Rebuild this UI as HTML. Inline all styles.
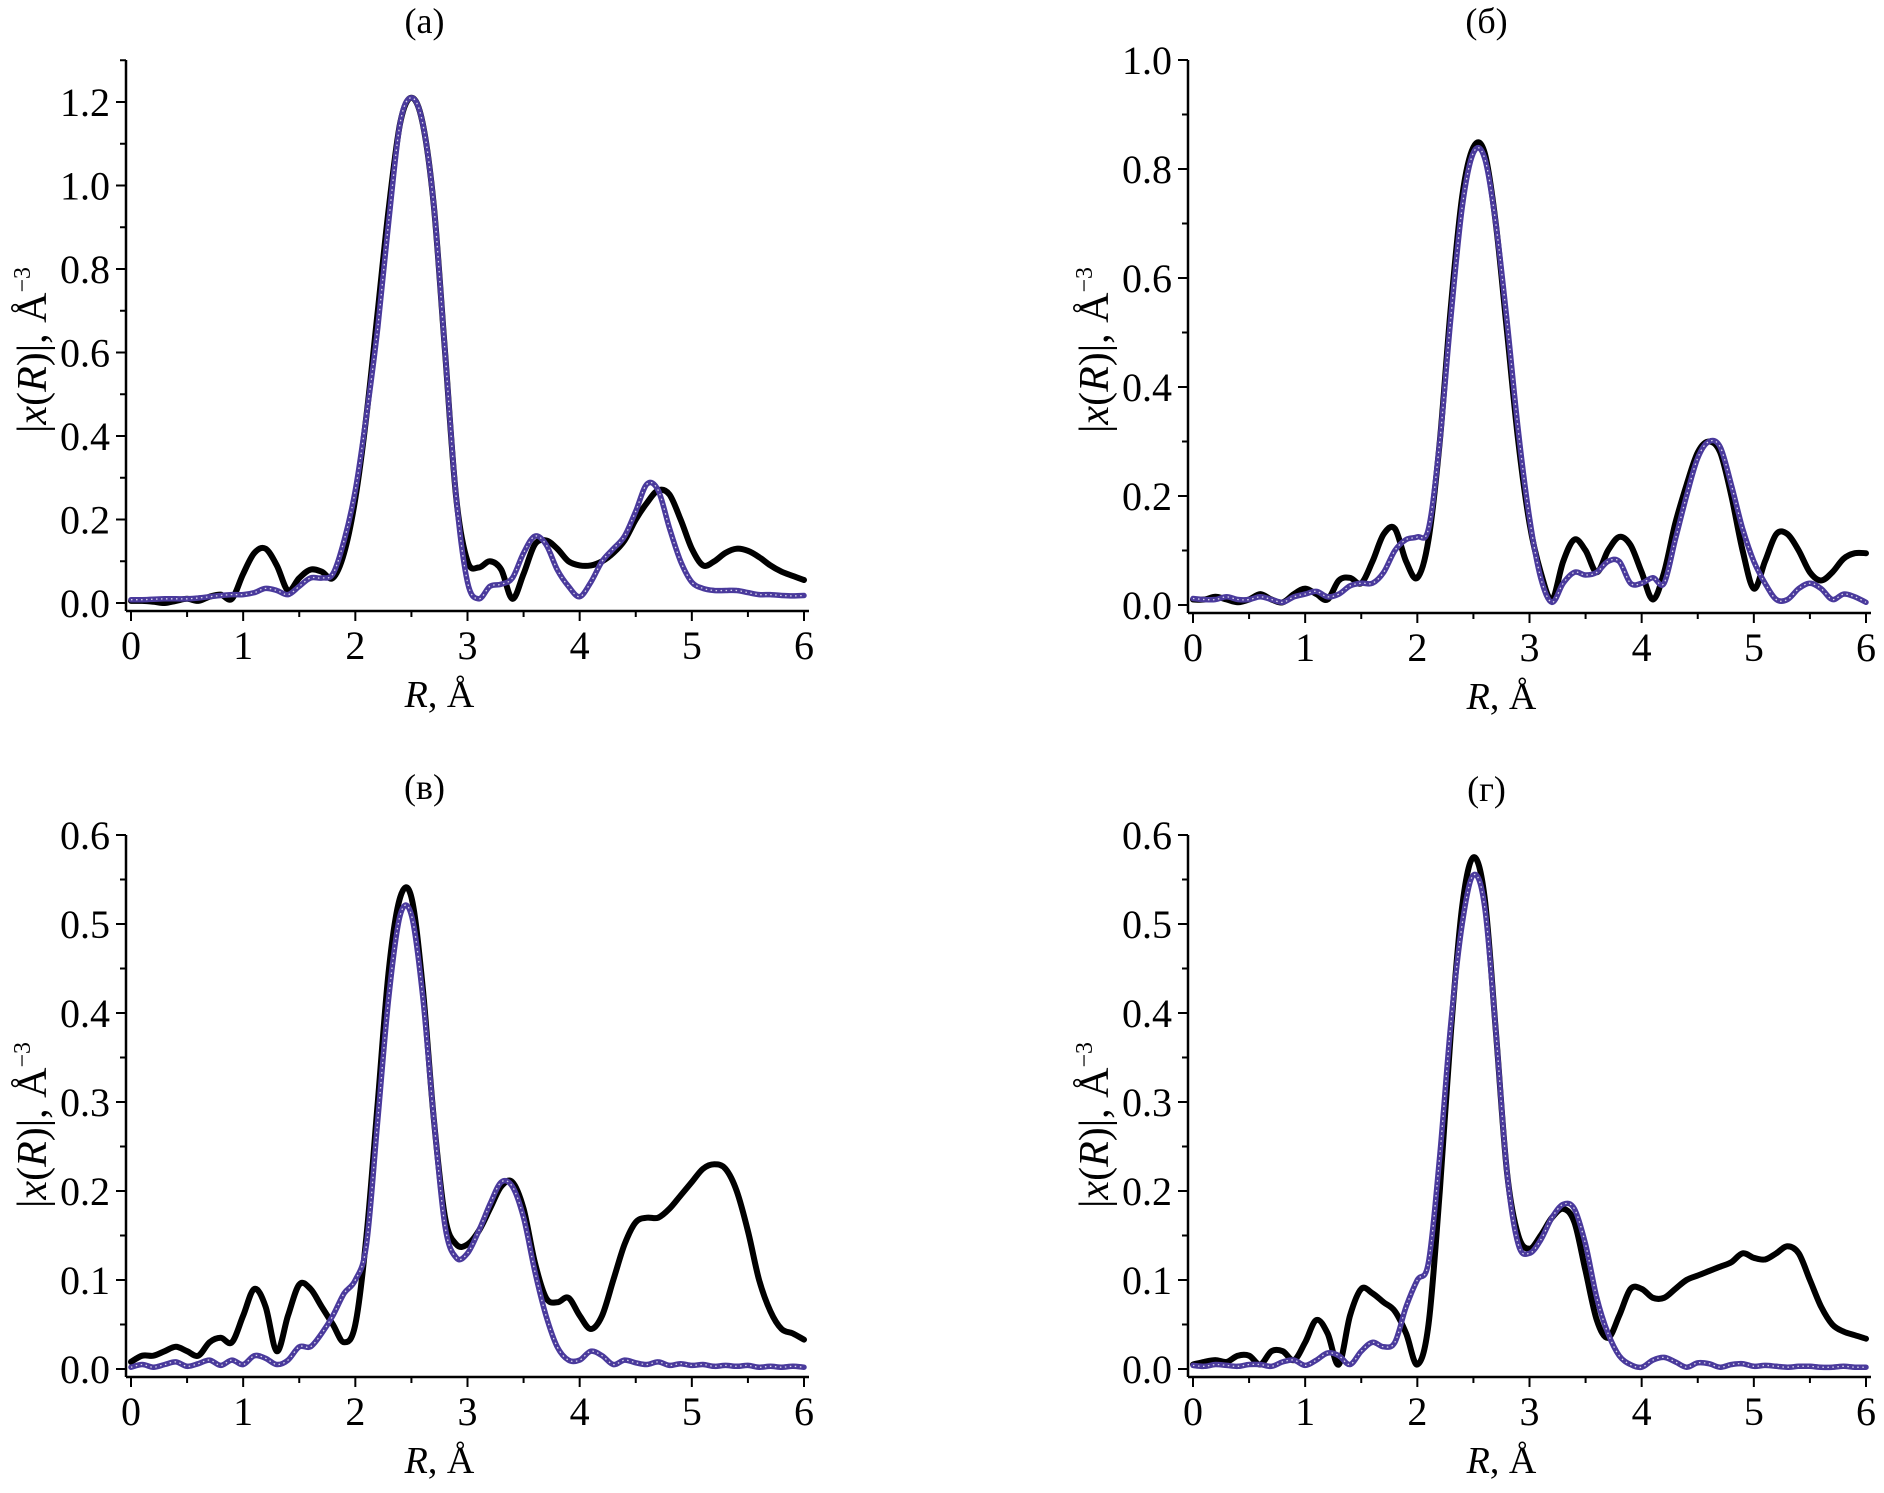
<!DOCTYPE html>
<html><head><meta charset="utf-8"><style>
html,body{margin:0;padding:0;background:#fff}
svg{display:block}
svg text{font-family:"Liberation Serif","Times New Roman",serif;fill:#000}
</style></head><body>
<svg id="fig" width="1884" height="1493" viewBox="0 0 1884 1493" xmlns="http://www.w3.org/2000/svg" font-family="Liberation Serif, serif"></svg>
<script>
const rGrid = [0,0.1,0.2,0.3,0.4,0.5,0.6,0.7,0.8,0.9,1.0,1.1,1.2,1.3,1.4,1.5,1.6,1.7,1.8,1.9,2.0,2.1,2.2,2.3,2.4,2.5,2.6,2.7,2.8,2.9,3.0,3.1,3.2,3.3,3.4,3.5,3.6,3.7,3.8,3.9,4.0,4.1,4.2,4.3,4.4,4.5,4.6,4.7,4.8,4.9,5.0,5.1,5.2,5.3,5.4,5.5,5.6,5.7,5.8,5.9,6.0];
const xTicks = ["0","1","2","3","4","5","6"];
const expA = [.005,.005,.003,0,.005,.01,.005,.015,.02,.01,.07,.12,.13,.09,.03,.06,.08,.075,.06,.12,.25,.45,.7,.95,1.15,1.21,1.15,.95,.6,.25,.1,.085,.1,.08,.01,.07,.14,.15,.13,.1,.09,.09,.1,.12,.15,.2,.24,.27,.26,.2,.13,.09,.1,.12,.13,.125,.11,.09,.075,.065,.055];
const fitA = [.008,.008,.009,.01,.01,.01,.012,.015,.018,.02,.02,.025,.035,.03,.02,.04,.06,.06,.07,.15,.27,.45,.66,.92,1.15,1.21,1.15,.95,.6,.25,.05,.01,.04,.045,.06,.12,.16,.14,.08,.04,.015,.05,.1,.13,.16,.22,.285,.27,.18,.1,.05,.035,.03,.03,.03,.025,.02,.02,.018,.017,.018];
const expB = [.01,.01,.015,.01,.005,.01,.02,.01,.005,.02,.03,.02,.01,.045,.05,.04,.08,.13,.14,.08,.05,.12,.3,.55,.75,.84,.83,.7,.5,.3,.15,.06,.01,.08,.12,.1,.06,.1,.125,.11,.06,.01,.06,.15,.22,.28,.3,.28,.2,.1,.03,.08,.13,.13,.1,.06,.045,.06,.085,.095,.095];
const fitB = [.012,.01,.01,.015,.01,.01,.015,.01,.005,.015,.02,.025,.015,.02,.035,.04,.04,.06,.1,.12,.125,.14,.3,.53,.73,.83,.82,.7,.52,.32,.16,.05,.005,.04,.06,.055,.06,.08,.08,.04,.04,.05,.04,.12,.2,.27,.3,.29,.22,.14,.08,.04,.01,.01,.03,.04,.03,.01,.02,.015,.005];
const expC = [.008,.015,.015,.02,.025,.02,.015,.03,.035,.03,.06,.09,.07,.02,.06,.095,.09,.07,.05,.03,.05,.15,.3,.45,.53,.53,.43,.28,.17,.14,.14,.155,.18,.205,.21,.18,.12,.08,.075,.08,.06,.045,.06,.1,.14,.165,.17,.17,.18,.195,.21,.225,.23,.225,.2,.155,.1,.065,.045,.04,.033];
const fitC = [.002,.005,.002,.005,.008,.003,.006,.01,.004,.01,.005,.015,.012,.005,.01,.025,.025,.04,.06,.085,.1,.14,.28,.42,.51,.51,.42,.28,.16,.125,.13,.155,.185,.21,.205,.17,.11,.06,.025,.01,.01,.02,.015,.005,.01,.007,.005,.008,.004,.006,.004,.005,.003,.004,.003,.004,.002,.003,.002,.003,.002];
const expD = [.005,.008,.01,.008,.015,.015,.005,.02,.02,.01,.03,.055,.04,.005,.06,.09,.085,.075,.065,.04,.005,.05,.2,.38,.52,.575,.53,.38,.22,.15,.135,.15,.17,.18,.165,.11,.055,.035,.06,.09,.09,.08,.08,.09,.1,.105,.11,.115,.12,.13,.125,.123,.13,.138,.13,.1,.07,.05,.042,.038,.034];
const fitD = [.004,.003,.005,.004,.003,.005,.005,.003,.008,.01,.004,.01,.018,.015,.005,.02,.03,.025,.03,.07,.1,.12,.24,.39,.5,.555,.52,.38,.22,.14,.13,.145,.17,.185,.18,.14,.08,.04,.015,.005,.002,.01,.013,.008,.002,.007,.006,.002,.005,.006,.003,.004,.003,.002,.003,.003,.002,.002,.003,.002,.002];
const yTicksA = ["0.0","0.2","0.4","0.6","0.8","1.0","1.2"];
const yTicksB = ["0.0","0.2","0.4","0.6","0.8","1.0"];
const yTicksC = ["0.0","0.1","0.2","0.3","0.4","0.5","0.6"];

const NS="http://www.w3.org/2000/svg";
const svg=document.getElementById('fig');
const FF='Liberation Serif, serif';
function mk(tag,attrs,parent){const e=document.createElementNS(NS,tag);for(const k in attrs)e.setAttribute(k,attrs[k]);(parent||svg).appendChild(e);return e;}

function smoothPath(pts){
  let d="M"+pts[0][0].toFixed(1)+","+pts[0][1].toFixed(1);
  for(let i=0;i<pts.length-1;i++){
    const p0=pts[Math.max(0,i-1)],p1=pts[i],p2=pts[i+1],p3=pts[Math.min(pts.length-1,i+2)];
    const c1=[p1[0]+(p2[0]-p0[0])/6,p1[1]+(p2[1]-p0[1])/6];
    const c2=[p2[0]-(p3[0]-p1[0])/6,p2[1]-(p3[1]-p1[1])/6];
    d+=" C"+c1[0].toFixed(1)+","+c1[1].toFixed(1)+" "+c2[0].toFixed(1)+","+c2[1].toFixed(1)+" "+p2[0].toFixed(1)+","+p2[1].toFixed(1);
  }
  return d;
}

function panel(cfg){
  const g=mk('g',{});
  
  
  const xs=v=>cfg.x0+(cfg.x6-cfg.x0)*v/6;
  const ys=v=>cfg.y0-(cfg.y0-cfg.yTop)*v/cfg.yMaxTick;
  const ax=cfg.x0-5, ay=cfg.y0+8;
  const pc=(cfg.x0+cfg.x6)/2;
  const t=mk('text',{x:pc-43,y:cfg.titleY,'font-size':36,'font-family':FF,'text-anchor':'middle'},g);
  t.textContent=cfg.title;
  
  
  const yAx=mk('line',{x1:ax,y1:cfg.axTop,x2:ax,y2:ay,stroke:'#000','stroke-width':2.5},g);
  
  
  const xAx=mk('line',{x1:ax,y1:ay,x2:cfg.x6+5,y2:ay,stroke:'#000','stroke-width':2.5},g);
  
  
  const n=cfg.yTicks.length-1;
  for(let i=0;i<=n;i++){
    const v=cfg.yMaxTick*i/n,y=ys(v);
    mk('line',{x1:ax-10,y1:y,x2:ax,y2:y,stroke:'#000','stroke-width':2},g);
    const lb=mk('text',{x:ax-16,y:y+14,'font-size':40,'font-family':FF,'text-anchor':'end'},g);
    lb.textContent=cfg.yTicks[i];
    
    
    if(i<n){const ym=ys(v+cfg.yMaxTick/n/2);mk('line',{x1:ax-6,y1:ym,x2:ax,y2:ym,stroke:'#000','stroke-width':2},g);}
  }
  if(cfg.extraMinor){const ym=ys(cfg.extraMinor);mk('line',{x1:ax-6,y1:ym,x2:ax,y2:ym,stroke:'#000','stroke-width':2},g);}
  for(let i=0;i<=6;i++){
    const x=xs(i);
    mk('line',{x1:x,y1:ay,x2:x,y2:ay+10,stroke:'#000','stroke-width':2},g);
    if(i<6){mk('line',{x1:xs(i+0.5),y1:ay,x2:xs(i+0.5),y2:ay+6,stroke:'#000','stroke-width':2},g);}
    const lb=mk('text',{x:x,y:ay+48,'font-size':40,'font-family':FF,'text-anchor':'middle'},g);
    lb.textContent=xTicks[i];
    
    
  }
  const xl=mk('text',{x:pc-28,y:ay+96,'font-size':38,'font-family':FF,'text-anchor':'middle'},g);
  xl.innerHTML='<tspan font-style="italic">R</tspan>, Å';
  
  
  const cy=cfg.yTitleC;
  const yl=mk('text',{x:0,y:0,'font-size':42,'font-family':FF,'text-anchor':'middle',transform:`translate(${ax-80},${cy}) rotate(-90)`},g);
  yl.innerHTML='|<tspan font-style="italic">x</tspan>(<tspan font-style="italic">R</tspan>)|, Å<tspan dy="-16" font-size="24">−3</tspan>';
  
  
  const pe=rGrid.map((r,i)=>[xs(r),ys(cfg.exp[i])]);
  const pf=rGrid.map((r,i)=>[xs(r),ys(cfg.fit[i])]);
  const le=mk('path',{d:smoothPath(pe),fill:'none',stroke:'#000','stroke-width':6,'stroke-linejoin':'round','stroke-linecap':'round'},g);
  
  
  const lf=mk('path',{d:smoothPath(pf),fill:'none',stroke:'#4a3a9c','stroke-width':5.5,'stroke-linejoin':'round','stroke-linecap':'round'},g);
  
  
  const lf2=mk('path',{d:smoothPath(pf),fill:'none',stroke:'#ffffff','stroke-width':1.3,'stroke-dasharray':'1.5 3.5','opacity':0.8},g);
  
  
}

panel({name:'panel-a',title:'(a)',titleY:33,x0:131,x6:804,y0:603,yTop:102,yMaxTick:1.2,axTop:60,yTitleC:350,yTicks:yTicksA,exp:expA,fit:fitA,extraMinor:1.3});
panel({name:'panel-b',title:'(б)',titleY:33,x0:1193,x6:1866,y0:605,yTop:60,yMaxTick:1.0,axTop:60,yTitleC:350,yTicks:yTicksB,exp:expB,fit:fitB});
panel({name:'panel-v',title:'(в)',titleY:799,x0:131,x6:804,y0:1369,yTop:835,yMaxTick:0.6,axTop:835,yTitleC:1125,yTicks:yTicksC,exp:expC,fit:fitC});
panel({name:'panel-g',title:'(г)',titleY:801,x0:1193,x6:1866,y0:1369,yTop:835,yMaxTick:0.6,axTop:835,yTitleC:1125,yTicks:yTicksC,exp:expD,fit:fitD});
</script>
</body></html>
